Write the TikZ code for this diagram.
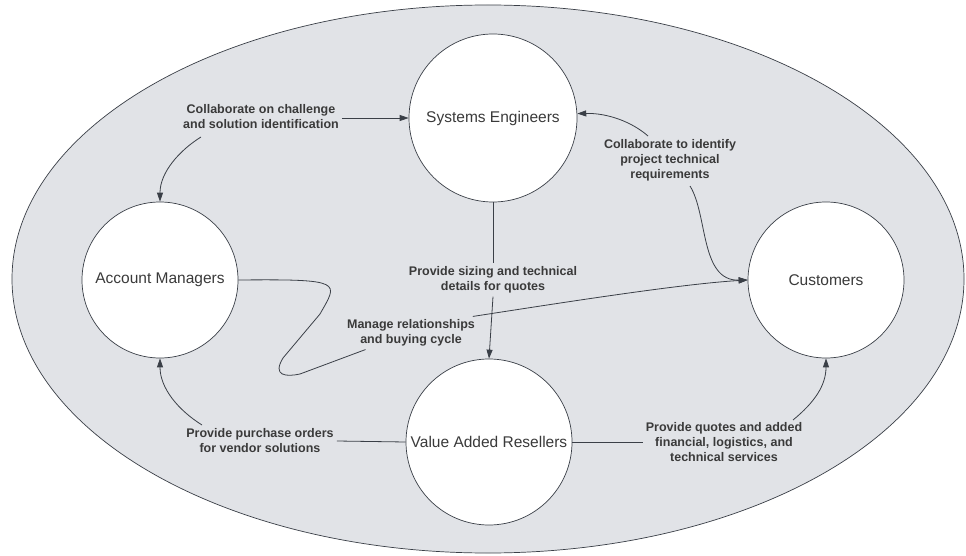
\documentclass[tikz,border=0pt]{standalone}
\usepackage{fontspec}
\setmainfont{Liberation Sans}
\usetikzlibrary{arrows.meta}
\definecolor{bgfill}{HTML}{E1E3E7}
\definecolor{edge}{HTML}{3A3F47}
\definecolor{txt}{HTML}{3A3A3A}
\tikzset{
  party/.style={circle, draw=edge, line width=0.7pt, fill=white, minimum size=#1, inner sep=0pt,
    text=txt, font=\fontsize{15.5}{18}\selectfont},
  lab/.style={align=center, text=txt, font=\bfseries\fontsize{12.5}{15}\selectfont, inner sep=3pt},
  conn/.style={draw=edge, line width=0.8pt},
  arr/.style={conn, -{Triangle[length=9pt,width=6pt]}}
}
\begin{document}
\begin{tikzpicture}[x=1pt,y=-1pt]
\useasboundingbox (0,0) rectangle (966,556);
\fill[white] (0,0) rectangle (966,556);
\draw[edge, line width=0.7pt, fill=bgfill] (488,279) ellipse [x radius=476pt, y radius=274pt];

\node[party=168pt] (se) at (493,118) {Systems Engineers};
\node[party=156pt] (am) at (160,280) {Account Managers};
\node[party=156pt] (cu) at (826,280) {Customers};
\node[party=166pt] (var) at (489,442) {Value Added Resellers};

\node[lab] (l1) at (261,117) {Collaborate on challenge\\and solution identification};
\node[lab] (l2) at (670,160) {Collaborate to identify\\project technical\\requirements};
\node[lab] (l3) at (493,280) {Provide sizing and technical\\details for quotes};
\node[lab] (l4) at (411,333) {Manage relationships\\and buying cycle};
\node[lab] (l5) at (260,441) {Provide purchase orders\\for vendor solutions};
\node[lab] (l6) at (724,442) {Provide quotes and added\\financial, logistics, and\\technical services};

% Collaborate on challenge
\draw[arr] (l1.east |- se.west) -- (se.west);
\coordinate (c1) at (201,137);
\draw[arr] (c1) .. controls (180,150) and (160,172) .. (am.north);

% Collaborate to identify
\coordinate (c2a) at (648,136);
\draw[arr] (c2a) .. controls (632,122) and (608,113) .. (se.3);
\coordinate (c2b) at (690,186);
\draw[arr] (c2b) .. controls (708,215) and (700,281) .. (cu.west);

% Provide sizing
\draw[conn] (se.south) -- (l3.north);
\draw[arr] (l3.south) -- (var.north);

% Manage relationships
\coordinate (m1) at (300,374);
\draw[conn] (am.east) .. controls (345,279) and (338,282) .. (320,314)
  -- (283,358) .. controls (272,376) and (286,377) .. (m1);
\draw[conn] (m1) -- (l4.200);
\draw[arr] (l4.15) .. controls (560,303) and (680,284) .. (cu.west);

% Provide purchase orders
\draw[conn] (var.west) -- (l5.east);
\coordinate (c5) at (202,425);
\draw[arr] (c5) .. controls (178,410) and (160,388) .. (am.south);

% Provide quotes
\draw[conn] (var.east) -- (l6.west);
\coordinate (c6) at (793,420);
\draw[arr] (c6) .. controls (815,402) and (826,385) .. (cu.south);
\end{tikzpicture}
\end{document}
